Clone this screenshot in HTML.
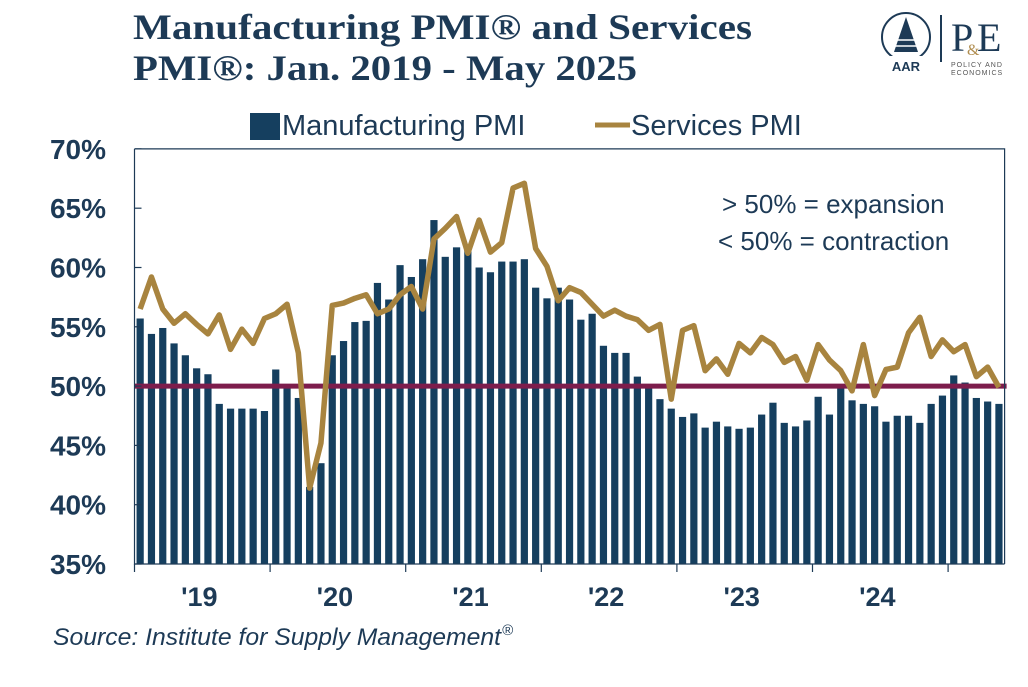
<!DOCTYPE html>
<html><head><meta charset="utf-8"><style>
body{margin:0;background:#fff;width:1028px;height:682px;overflow:hidden;font-family:"Liberation Sans",Arial,sans-serif}
</style></head><body>
<svg id="c" width="1028" height="682" xmlns="http://www.w3.org/2000/svg">
<text x="133" y="39" font-family="Liberation Serif" font-weight="bold" font-size="36" fill="#1d3a56" textLength="619" lengthAdjust="spacingAndGlyphs">Manufacturing PMI® and Services</text>
<text x="133" y="80" font-family="Liberation Serif" font-weight="bold" font-size="36" fill="#1d3a56" textLength="504" lengthAdjust="spacingAndGlyphs">PMI®: Jan. 2019 - May 2025</text>
<g>
<circle cx="906" cy="37" r="24" fill="none" stroke="#1d3a56" stroke-width="2"/>
<path d="M906 17 L894 52 L918 52 Z" fill="#1d3a56"/>
<line x1="896" y1="40" x2="916" y2="40" stroke="#fff" stroke-width="1.5"/>
<line x1="894" y1="46" x2="918" y2="46" stroke="#fff" stroke-width="1.5"/>
<rect x="880" y="56" width="52" height="16" fill="#fff"/>
<text x="906" y="71" font-size="13" font-weight="bold" fill="#1d3a56" text-anchor="middle">AAR</text>
<line x1="941" y1="15" x2="941" y2="62" stroke="#1d3a56" stroke-width="2"/>
<text x="951" y="51" font-family="Liberation Serif" font-size="40" fill="#1d3a56">P</text>
<text x="977" y="51" font-family="Liberation Serif" font-size="40" fill="#1d3a56">E</text>
<text x="967" y="55" font-family="Liberation Serif" font-size="16" fill="#b08d4f">&amp;</text>
<text x="951" y="67" font-size="7" fill="#555" letter-spacing="1">POLICY AND</text>
<text x="951" y="75" font-size="7" fill="#555" letter-spacing="1">ECONOMICS</text>
</g>
<g>
<rect x="250" y="113" width="30" height="27" fill="#153f5f"/>
<text x="282" y="135" font-size="29" fill="#1d3a56">Manufacturing PMI</text>
<line x1="595" y1="125" x2="630" y2="125" stroke="#a8843f" stroke-width="5"/>
<text x="631" y="135" font-size="29" fill="#1d3a56">Services PMI</text>
</g>
<text x="722" y="213" font-size="26" fill="#1d3a56">&gt; 50% = expansion</text>
<text x="718" y="250" font-size="26" fill="#1d3a56">&lt; 50% = contraction</text>
<text x="53" y="645" font-size="24" font-style="italic" fill="#1d3a56" textLength="448" lengthAdjust="spacingAndGlyphs">Source: Institute for Supply Management</text>
<text x="502" y="635" font-size="15" font-style="italic" fill="#1d3a56">®</text>
<g id="plot"></g>
</svg>
<script>
const mfg=[55.7,54.4,54.9,53.6,52.6,51.5,51.0,48.5,48.1,48.1,48.1,47.9,
51.4,50.0,49.0,41.5,43.5,52.6,53.8,55.4,55.5,58.7,57.3,60.2,
59.2,60.7,64.0,60.9,61.7,61.5,60.0,59.6,60.5,60.5,60.7,58.3,
57.4,58.3,57.3,55.6,56.1,53.4,52.8,52.8,50.8,50.0,48.9,48.1,
47.4,47.7,46.5,47.0,46.6,46.4,46.5,47.6,48.6,46.9,46.6,47.1,
49.1,47.6,50.0,48.8,48.5,48.3,47.0,47.5,47.5,46.9,48.5,49.2,
50.9,50.3,49.0,48.7,48.5];
const svc=[56.5,59.2,56.5,55.3,56.1,55.2,54.4,56.0,53.1,54.8,53.6,55.7,
56.1,56.9,52.8,41.4,45.2,56.8,57.0,57.4,57.7,56.1,56.5,57.7,
58.4,56.5,62.4,63.3,64.3,61.2,64.0,61.3,62.1,66.7,67.1,61.6,
60.1,57.2,58.3,57.9,56.9,55.9,56.4,55.9,55.6,54.7,55.2,48.9,
54.7,55.1,51.3,52.3,51.0,53.6,52.8,54.1,53.5,52.0,52.5,50.5,
53.5,52.2,51.3,49.6,53.5,49.2,51.4,51.6,54.5,55.8,52.5,53.9,
52.9,53.5,50.8,51.6,49.9];
const yTicks=[35,40,45,50,55,60,65,70];
const yearLabels=["'19","'20","'21","'22","'23","'24"];
const threshold=50;
const X0=134.5,MW=11.3,Y35=564,PX=11.86;
const x=i=>X0+MW*(i+0.5), y=v=>Y35-(v-35)*PX;
const NS='http://www.w3.org/2000/svg', g=document.getElementById('plot');
function mk(t,a){const e=document.createElementNS(NS,t);for(const k in a)e.setAttribute(k,a[k]);g.appendChild(e);return e;}
const X1=X0+MW*mfg.length;
mfg.forEach((v,i)=>{const r=mk('rect',{x:x(i)-3.6,y:y(v),width:7.2,height:Y35-y(v),fill:'#153f5f'});

});
const th=mk('line',{x1:X0,x2:X1+2,y1:y(threshold),y2:y(threshold),stroke:'#7d1d4c','stroke-width':5});


const pl=mk('polyline',{points:svc.map((v,i)=>x(i)+','+y(v)).join(' '),fill:'none',stroke:'#a8843f','stroke-width':5.5,'stroke-linejoin':'round'});


const fr=mk('path',{d:`M${X0} ${y(70)} H${X1} V${Y35} M${X0} ${y(70)} V${Y35} H${X1}`,fill:'none',stroke:'#1d3a56','stroke-width':1.2});


yTicks.forEach(t=>{const tx=mk('text',{x:106,y:y(t)+10,'text-anchor':'end','font-size':28,'font-weight':'bold',fill:'#1d3a56'});tx.textContent=t+'%';


const tk=mk('line',{x1:X0,x2:X0+7,y1:y(t),y2:y(t),stroke:'#1d3a56','stroke-width':1.2});

});
for(let k=0;k<=6;k++){const tk=mk('line',{x1:X0+k*12*MW,x2:X0+k*12*MW,y1:Y35,y2:Y35+8,stroke:'#1d3a56','stroke-width':1.2});

}
yearLabels.forEach((l,k)=>{const tx=mk('text',{x:X0+(k*12+6)*MW-3,y:606,'text-anchor':'middle','font-size':27,'font-weight':'bold',fill:'#1d3a56'});tx.textContent=l;

});
</script>
</body></html>
